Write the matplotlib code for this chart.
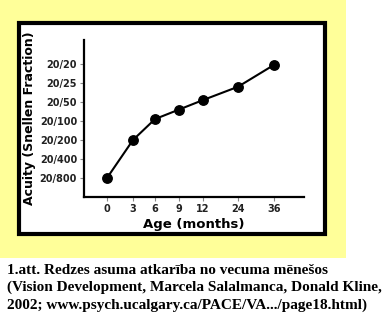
import numpy as np
import matplotlib
matplotlib.use("Agg")
import matplotlib.pyplot as plt
from matplotlib.patches import Rectangle

# data
months = [0, 3, 6, 9, 12, 24, 36]
acuity_level = [0, 2, 3.1, 3.6, 4.1, 4.8, 5.95]   # 0 = 20/800 ... 6 = 20/20
y_labels = ["20/800", "20/400", "20/200", "20/100", "20/50", "20/25", "20/20"]
# the original axis is hand spaced: months -> axis position
x_anchor = [0, 3, 6, 9, 12, 24, 36]
x_pos = [0, 26, 48, 72, 96, 131, 167]

caption = ["1.att. Redzes asuma atkarība no vecuma mēnešos",
           "(Vision Development, Marcela Salalmanca, Donald Kline,",
           "2002; www.psych.ucalgary.ca/PACE/VA.../page18.html)"]

W, H = 385, 323
fig = plt.figure(figsize=(W / 100, H / 100), dpi=100)
fig.patch.set_facecolor("white")

# yellow background and black frame
fig.patches.append(Rectangle((0, 1 - 258 / H), 346 / W, 258 / H, transform=fig.transFigure,
                             facecolor="#ffff99", edgecolor="none", zorder=0))
fig.patches.append(Rectangle((19 / W, 1 - 234 / H), 306 / W, 211 / H, transform=fig.transFigure,
                             facecolor="white", edgecolor="black", lw=3, zorder=1))

ax = fig.add_axes([84 / W, 1 - 197 / H, 220 / W, 157 / H])
ax.set_zorder(2)
ax.patch.set_alpha(0)


def fwd(x):
    x = np.asarray(x)
    return np.interp(x, x_anchor, x_pos) + \
        np.where(x < 0, x * 26 / 3, 0) + np.where(x > 36, (x - 36) * 36 / 12, 0)


def inv(p):
    p = np.asarray(p)
    return np.interp(p, x_pos, x_anchor) + \
        np.where(p < 0, p * 3 / 26, 0) + np.where(p > 167, (p - 167) * 12 / 36, 0)


ax.set_xscale("function", functions=(fwd, inv))
ax.plot(months, acuity_level, color="black", lw=1.5, marker="o", ms=6.8)

ax.set_xlim(inv(-23), inv(197))
ax.set_ylim(-1.0, 7.26)
ax.set_xticks(months)
ax.set_xticklabels([str(m) for m in months])
ax.set_yticks(range(len(y_labels)))
ax.set_yticklabels(y_labels)
ax.xaxis.set_minor_locator(matplotlib.ticker.NullLocator())

for s in ["top", "right"]:
    ax.spines[s].set_visible(False)
for s in ["left", "bottom"]:
    ax.spines[s].set_linewidth(1.6)
ax.tick_params(axis="both", length=3, width=0.8, color="#888888", labelsize=7, pad=2)
for lab in ax.get_xticklabels() + ax.get_yticklabels():
    lab.set_fontweight("bold")
    lab.set_color("#222222")

ax.set_xlabel("Age (months)", fontsize=9.5, fontweight="bold", labelpad=3)
ax.set_ylabel("Acuity (Snellen Fraction)", fontsize=9, fontweight="bold", labelpad=3)

for i, line in enumerate(caption):
    fig.text(7 / W, 1 - (270 + 17.5 * i) / H, line, fontsize=11, fontweight="bold",
             family="Liberation Serif", va="center", ha="left")

fig.savefig("out.png", dpi=100)
